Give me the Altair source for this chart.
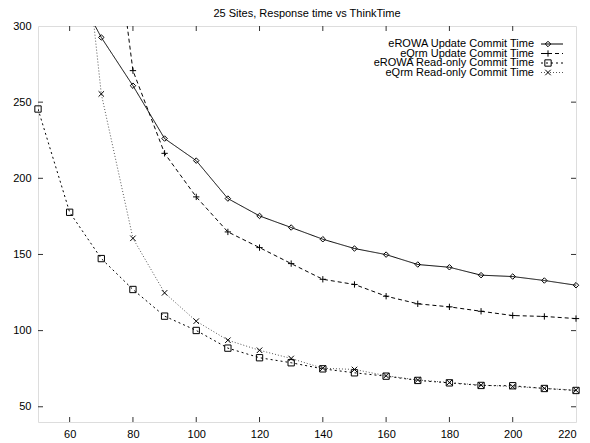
import altair as alt
import pandas as pd

TITLE = "25 Sites, Response time vs ThinkTime"

erowa_update_x = [60, 70, 80, 90, 100, 110, 120, 130, 140, 150, 160, 170, 180, 190, 200, 210, 220]
erowa_update = [331, 292.5, 260.8, 226.1, 211.6, 186.7, 175.3, 167.7, 160.0, 153.9, 149.9, 143.4, 141.6, 136.4, 135.5, 132.9, 129.8]

eqrm_update_x = [70, 80, 90, 100, 110, 120, 130, 140, 150, 160, 170, 180, 190, 200, 210, 220]
eqrm_update = [433, 270.7, 216.4, 187.8, 164.8, 154.5, 144.0, 133.7, 130.3, 122.6, 117.6, 115.6, 112.7, 109.9, 109.3, 107.9]

erowa_ro_x = [50, 60, 70, 80, 90, 100, 110, 120, 130, 140, 150, 160, 170, 180, 190, 200, 210, 220]
erowa_ro = [245.5, 177.7, 147.3, 127.0, 109.5, 100.1, 88.5, 82.2, 78.9, 74.9, 72.3, 70.1, 67.3, 65.7, 64.0, 63.8, 62.0, 60.7]

eqrm_ro_x = [60, 70, 80, 90, 100, 110, 120, 130, 140, 150, 160, 170, 180, 190, 200, 210, 220]
eqrm_ro = [449, 255.4, 160.6, 124.8, 106.2, 93.7, 87.1, 81.7, 75.3, 74.5, 70.4, 67.6, 65.9, 64.2, 63.3, 62.1, 60.9]

series_names = [
    "eROWA Update Commit Time",
    "eQrm Update Commit Time",
    "eROWA Read-only Commit Time",
    "eQrm Read-only Commit Time",
]

x_ticks = [60, 80, 100, 120, 140, 160, 180, 200, 220]
y_ticks = [50, 100, 150, 200, 250, 300]

W, H = 538, 396
FONT = "Liberation Sans"

styles = [
    dict(dash=[1, 0], color="#000000", shape="diamond", size=30, pts_color="#000000"),
    dict(dash=[4, 3], color="#000000", shape="M-1,0L1,0M0,-1L0,1", size=40, pts_color="#000000"),
    dict(dash=[2, 3], color="#000000", shape="square", size=40, pts_color="#000000"),
    dict(dash=[1, 2], color="#555555", shape="M-1,-1L1,1M-1,1L1,-1", size=30, pts_color="#000000"),
]

xs_all = [erowa_update_x, eqrm_update_x, erowa_ro_x, eqrm_ro_x]
ys_all = [erowa_update, eqrm_update, erowa_ro, eqrm_ro]

xscale = alt.Scale(domain=[50, 220], nice=False, zero=False)
yscale = alt.Scale(domain=[40, 300], nice=False, zero=False)

layers = []
for i, (name, xs, ys) in enumerate(zip(series_names, xs_all, ys_all)):
    df = pd.DataFrame({"t": xs, "v": ys, "s": name})
    st = styles[i]
    line = alt.Chart(df).mark_line(
        clip=True, color=st["color"], strokeWidth=1, strokeDash=st["dash"]
    ).encode(
        x=alt.X("t:Q", scale=xscale,
                axis=alt.Axis(values=x_ticks, title=None, labelFont=FONT, labelFontSize=11,
                              labelColor="#000", domain=False, ticks=False, grid=False,
                              labelPadding=6)),
        y=alt.Y("v:Q", scale=yscale,
                axis=alt.Axis(values=y_ticks, title=None, labelFont=FONT, labelFontSize=11,
                              labelColor="#000", domain=False, ticks=False, grid=False,
                              labelPadding=7)),
    )
    pts = alt.Chart(df).transform_filter(alt.datum.v <= 300).mark_point(
        shape=st["shape"], size=st["size"], filled=False, color=st["pts_color"],
        strokeWidth=1, opacity=1
    ).encode(x=alt.X("t:Q", scale=xscale), y=alt.Y("v:Q", scale=yscale))
    layers += [line, pts]

# inward ticks (gnuplot style) on all four sides
xt = pd.DataFrame({"t": x_ticks[:-1]})
yt = pd.DataFrame({"v": y_ticks[:-1]})
tick_color = "#333333"
layers.append(alt.Chart(xt).mark_rule(color=tick_color).encode(
    x=alt.X("t:Q", scale=xscale), y=alt.value(H), y2=alt.value(H - 5)))
layers.append(alt.Chart(xt).mark_rule(color=tick_color).encode(
    x=alt.X("t:Q", scale=xscale), y=alt.value(0), y2=alt.value(5)))
layers.append(alt.Chart(yt).mark_rule(color=tick_color).encode(
    y=alt.Y("v:Q", scale=yscale), x=alt.value(0), x2=alt.value(5)))
layers.append(alt.Chart(yt).mark_rule(color=tick_color).encode(
    y=alt.Y("v:Q", scale=yscale), x=alt.value(W), x2=alt.value(W - 5)))

# key (top right, gnuplot style: text right-aligned, sample on the right)
row_y = [18, 27.5, 37, 46.5]
dummy = pd.DataFrame({"a": [0]})
for i, name in enumerate(series_names):
    st = styles[i]
    yy = row_y[i]
    layers.append(alt.Chart(dummy).mark_text(
        align="right", baseline="middle", font=FONT, fontSize=11, color="#000"
    ).encode(x=alt.value(496), y=alt.value(yy), text=alt.value(name)))
    layers.append(alt.Chart(dummy).mark_rule(
        color=st["color"], strokeWidth=1, strokeDash=st["dash"]
    ).encode(x=alt.value(503), x2=alt.value(525), y=alt.value(yy)))
    layers.append(alt.Chart(dummy).mark_point(
        shape=st["shape"], size=st["size"], filled=False, color=st["pts_color"],
        strokeWidth=1, opacity=1
    ).encode(x=alt.value(510), y=alt.value(yy)))

chart = alt.layer(*layers).properties(
    width=W, height=H,
    title=alt.TitleParams(TITLE, font=FONT, fontSize=11, fontWeight="normal",
                          color="#000", offset=1),
    autosize=alt.AutoSizeParams(type="none"),
    padding={"left": 38, "top": 26, "right": 14, "bottom": 21},
).configure_view(stroke="#333333", strokeWidth=1).configure(background="white")

chart.save("out.html", embed_options={"renderer": "svg", "actions": False})
